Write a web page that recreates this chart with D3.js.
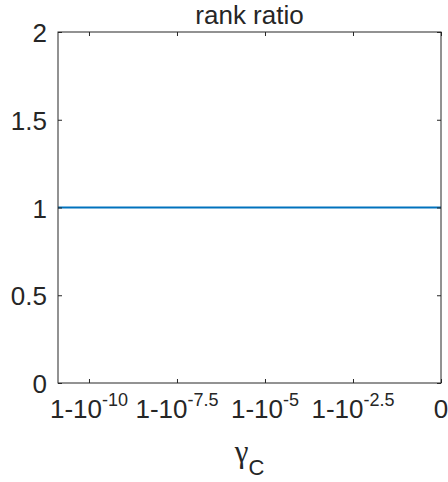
<!DOCTYPE html>
<html lang="en">
<head>
  <meta charset="UTF-8">
  <title>rank ratio</title>
  <style>
    body { margin: 0; background: #fff; }
    svg text { font-family: "Liberation Sans", Arial, sans-serif; fill: #262626; }
  </style>
</head>
<body>
  <div id="chart"></div>
  <script src="https://d3js.org/d3.v7.min.js"></script>
  <script>
    // data: exponent of (1 - gamma_C) and the rank ratio
    const xExp = [-10.88, -10, -7.5, -5, -2.5, 0];
    const ratio = [1, 1, 1, 1, 1, 1];
    const xTicks = [-10, -7.5, -5, -2.5, 0];
    const xTickExp = ["-10", "-7.5", "-5", "-2.5", ""];
    const yTicks = [0, 0.5, 1, 1.5, 2];

    const W = 448, H = 482;
    const m = { left: 58, right: 7, top: 32, bottom: 99 };
    const w = W - m.left - m.right;
    const h = H - m.top - m.bottom;

    const svg = d3.select('#chart').append('svg')
      .attr('width', W).attr('height', H);
    const g = svg.append('g')
      .attr('transform', 'translate(' + m.left + ',' + m.top + ')');

    const x = d3.scaleLinear().domain([-10.88, 0]).range([0, w]);
    const y = d3.scaleLinear().domain([0, 2]).range([h, 0]);

    // line
    g.append('path')
      .datum(xExp.map((d, i) => [d, ratio[i]]))
      .attr('fill', 'none')
      .attr('stroke', '#0072BD')
      .attr('stroke-width', 2)
      .attr('d', d3.line().x(d => x(d[0])).y(d => y(d[1])));

    // axes (ticks pointing inward, mirrored on top/right)
    const tickColor = '#262626';
    function styleAxis(sel) {
      sel.select('.domain').remove();
      sel.selectAll('line').attr('stroke', tickColor);
      sel.selectAll('text').remove();
    }
    g.append('g').attr('transform', 'translate(0,' + h + ')')
      .call(d3.axisTop(x).tickValues(xTicks).tickSize(4)).call(styleAxis);
    g.append('g')
      .call(d3.axisBottom(x).tickValues(xTicks).tickSize(4)).call(styleAxis);
    g.append('g')
      .call(d3.axisRight(y).tickValues(yTicks).tickSize(4)).call(styleAxis);
    g.append('g').attr('transform', 'translate(' + w + ',0)')
      .call(d3.axisLeft(y).tickValues(yTicks).tickSize(4)).call(styleAxis);

    g.append('rect')
      .attr('x', 0).attr('y', 0).attr('width', w).attr('height', h)
      .attr('fill', 'none').attr('stroke', tickColor).attr('stroke-width', 1);

    // y tick labels
    g.selectAll('.ylab').data(yTicks).enter().append('text')
      .attr('x', -11).attr('y', d => y(d) + 10)
      .attr('text-anchor', 'end')
      .style('font-size', '26px')
      .text(d => d);

    // x tick labels with superscripts
    xTicks.forEach(function (t, i) {
      const txt = g.append('text')
        .attr('x', x(t)).attr('y', h + 35)
        .attr('text-anchor', 'middle')
        .style('font-size', '26px');
      if (xTickExp[i] === '') {
        txt.text('0');
      } else {
        txt.append('tspan').text('1-10');
        txt.append('tspan').attr('dy', -12).style('font-size', '18px').text(xTickExp[i]);
      }
    });

    // title
    g.append('text')
      .attr('x', w / 2).attr('y', -8)
      .attr('text-anchor', 'middle')
      .style('font-size', '26px')
      .text('rank ratio');

    // x label: gamma_C
    const xl = g.append('text')
      .attr('x', w / 2).attr('y', h + 79)
      .attr('text-anchor', 'middle');
    xl.append('tspan').style('font-family', '"Liberation Serif", "DejaVu Serif", serif')
      .style('font-size', '31px').text('γ');
    xl.append('tspan').attr('dy', 13).style('font-size', '22px').text('C');
  </script>
</body>
</html>
